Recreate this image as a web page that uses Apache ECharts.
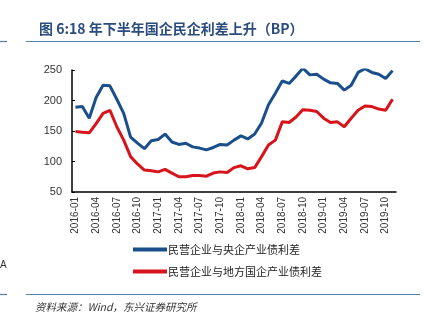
<!DOCTYPE html>
<html><head><meta charset="utf-8">
<script src="https://cdn.jsdelivr.net/npm/echarts@6/dist/echarts.min.js"></script>
<style>html,body{margin:0;padding:0;background:#fff}#c{width:428px;height:329px}</style>
</head><body><div id="c"></div>
<script>
const months = (function(){const a=[];for(let y=2016;y<=2019;y++){for(let m=1;m<=12;m++){if(y===2019&&m>11)break;a.push(y+'-'+(m<10?'0'+m:m));}}return a;})();
const seriesNames = ['民营企业与央企产业债利差','民营企业与地方国企产业债利差'];
const centralSpread = [189,190,171,205,225,224,202,179,140,130,121,134,136,145,132,128,130,124,122,119,123,128,127,135,142,137,145,163,193,212,232,228,240,253,242,243,235,229,228,217,225,246,252,246,243,236,249];
const localSpread = [149,148,147,162,179,184,157,135,108,96,86,85,83,87,81,75,75,77,77,76,81,83,82,90,93,88,90,108,127,135,165,164,173,185,184,182,171,164,165,157,171,184,191,190,186,184,202];
const yTicks = {min:50,max:250,interval:50};
const titleText = '图 6:18 年下半年国企民企利差上升（BP）';
const sourceText = '资料来源：Wind，东兴证券研究所';

const chart = echarts.init(document.getElementById('c'));
chart.setOption({
  animation:false,
  backgroundColor:'#fff',
  title:{text:titleText,left:34,top:17,textStyle:{fontSize:14,fontWeight:'bold',color:'#2b4d7e',fontFamily:'"Noto Sans CJK SC", sans-serif'}},
  graphic:[
    {type:'line',shape:{x1:26,y1:41.5,x2:420,y2:41.5},style:{stroke:'#5a7fae',lineWidth:1.2}},
    {type:'line',shape:{x1:0,y1:41.5,x2:7,y2:41.5},style:{stroke:'#5a7fae',lineWidth:1.2}},
    {type:'line',shape:{x1:26,y1:294.5,x2:420,y2:294.5},style:{stroke:'#5a7fae',lineWidth:1.2}},
    {type:'line',shape:{x1:0,y1:294.5,x2:7,y2:294.5},style:{stroke:'#5a7fae',lineWidth:1.2}},
    {type:'text',left:35,top:302,style:{text:sourceText,font:'italic 10.5px "Noto Sans CJK SC", sans-serif',fill:'#333'}},
    {type:'text',left:0,top:260,style:{text:'A',font:'10px "Liberation Sans", sans-serif',fill:'#333'}}
  ],
  legend:{orient:'vertical',left:128,top:239,itemWidth:34,itemHeight:4,itemGap:11,icon:'rect',
    textStyle:{fontSize:11,color:'#222',fontFamily:'"Noto Sans CJK SC", sans-serif',padding:[0,0,0,-4]},data:seriesNames},
  grid:{left:72,right:32,top:70,bottom:137},
  xAxis:{type:'category',data:months,boundaryGap:true,
    axisLine:{lineStyle:{color:'#000',width:1.5}},axisTick:{show:false},
    axisLabel:{interval:2,rotate:90,fontSize:10,color:'#333',fontFamily:'"Liberation Sans", Arial, sans-serif',margin:5}},
  yAxis:{type:'value',min:yTicks.min,max:yTicks.max,interval:yTicks.interval,
    splitLine:{show:false},axisLine:{show:true,lineStyle:{color:'#000',width:1.5}},
    axisTick:{show:true,inside:true,length:3,lineStyle:{color:'#000'}},
    axisLabel:{fontSize:11,color:'#333',fontFamily:'"Liberation Sans", Arial, sans-serif',margin:10}},
  series:[
    {name:seriesNames[0],type:'line',data:centralSpread,symbol:'none',lineStyle:{width:3,color:'#1b4f8c'},itemStyle:{color:'#1b4f8c'}},
    {name:seriesNames[1],type:'line',data:localSpread,symbol:'none',lineStyle:{width:3,color:'#d7141c'},itemStyle:{color:'#d7141c'}}
  ]
});
</script></body></html>
